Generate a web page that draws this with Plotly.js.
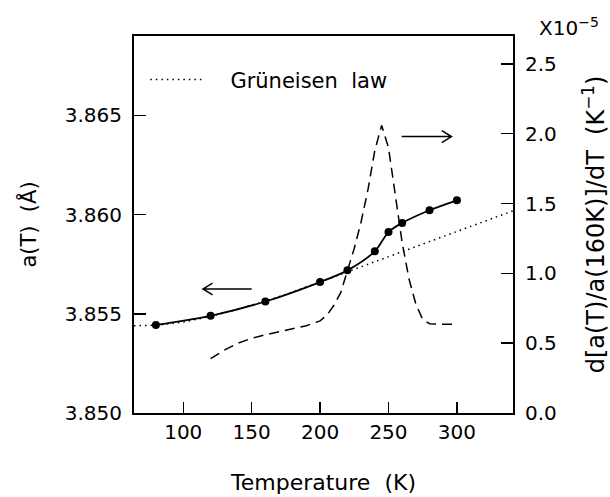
<!DOCTYPE html>
<html>
<head>
<meta charset="utf-8">
<script src="https://cdn.plot.ly/plotly-3.0.1.min.js"></script>
<style>html,body{margin:0;padding:0;background:#fff;}#chart{width:610px;height:497px;}</style>
</head>
<body>
<div id="chart"></div>
<script>
// Measured lattice parameter a(T) (Å)
const tempMeasured = [80, 120, 160, 200, 220, 240, 250, 260, 280, 300];
const latticeMeasured = [3.85444, 3.85490, 3.85562, 3.85660, 3.85719, 3.85815, 3.85912, 3.85958, 3.86022, 3.86072];

// Grüneisen law fit (Å)
const tempGruneisen = [64, 80, 100, 120, 140, 160, 180, 200, 220, 240, 260, 280, 300, 320, 341];
const latticeGruneisen = [3.85440, 3.85442, 3.85458, 3.85487, 3.85523, 3.85563, 3.85610, 3.85660, 3.85711, 3.85762, 3.85813, 3.85864, 3.85915, 3.85966, 3.86019];

// Thermal expansion d[a(T)/a(160K)]/dT  (x10^-5 K^-1)
const tempDeriv = [120, 130, 140, 150, 160, 170, 180, 190, 200, 205, 210, 215, 220, 225, 230, 235, 240, 245, 250, 255, 260, 265, 270, 275, 280, 290, 300];
const expansionDeriv = [0.39, 0.45, 0.50, 0.535, 0.56, 0.58, 0.60, 0.625, 0.66, 0.70, 0.77, 0.86, 1.02, 1.18, 1.37, 1.60, 1.88, 2.06, 1.90, 1.55, 1.22, 0.96, 0.78, 0.67, 0.64, 0.635, 0.635];

// Axis ticks
const xTicks = [100, 150, 200, 250, 300];
const yLeftTicks = [3.850, 3.855, 3.860, 3.865];
const yRightTicks = [0.0, 0.5, 1.0, 1.5, 2.0, 2.5];

const FONT = 'DejaVu Sans, Liberation Sans, sans-serif';

const traces = [
  {
    x: tempGruneisen, y: latticeGruneisen, xaxis: 'x', yaxis: 'y',
    mode: 'lines', name: '\u00a0\u00a0\u00a0Grüneisen  law',
    line: {color: '#000', width: 1.5, dash: '1.5px,4px'},
    showlegend: true
  },
  {
    x: tempMeasured, y: latticeMeasured, xaxis: 'x', yaxis: 'y',
    mode: 'lines+markers', name: 'a(T)',
    line: {color: '#000', width: 1.8, shape: 'spline', smoothing: 0.8},
    marker: {color: '#000', size: 8},
    showlegend: false
  },
  {
    x: tempDeriv, y: expansionDeriv, xaxis: 'x', yaxis: 'y2',
    mode: 'lines', name: 'derivative',
    line: {color: '#000', width: 1.5, dash: '10px,6px'},
    showlegend: false
  }
];

// arrows (in data coordinates)
const leftArrow = {x0: 150, x1: 114.4, y: 3.85625, ref: 'y', hx: 7, hy: 0.00030};
const rightArrow = {x0: 259.6, x1: 296, y: 1.98, ref: 'y2', hx: 7, hy: 0.043};
function arrowShapes(a) {
  const dir = a.x1 > a.x0 ? -1 : 1;
  const path = 'M' + a.x0 + ',' + a.y + ' L' + a.x1 + ',' + a.y +
    ' M' + (a.x1 + dir * a.hx) + ',' + (a.y + a.hy) + ' L' + a.x1 + ',' + a.y +
    ' L' + (a.x1 + dir * a.hx) + ',' + (a.y - a.hy);
  return {type: 'path', xref: 'x', yref: a.ref, path: path, line: {color: '#000', width: 1.5}};
}

const layout = {
  width: 610, height: 497,
  margin: {l: 134, r: 97, t: 36, b: 84},
  paper_bgcolor: '#fff', plot_bgcolor: '#fff',
  font: {family: FONT, size: 20, color: '#000'},
  xaxis: {
    range: [64, 341], tickvals: xTicks, ticktext: xTicks.map(String),
    ticks: 'inside', ticklen: 11, tickwidth: 1.5, tickcolor: '#000',
    showline: true, linewidth: 2, linecolor: '#000', mirror: true,
    showgrid: false, zeroline: false,
    tickfont: {family: FONT, size: 20},
    ticklabelstandoff: 0,
    title: {text: 'Temperature  (K)', font: {family: FONT, size: 22}, standoff: 32}
  },
  yaxis: {
    range: [3.850, 3.869], tickvals: yLeftTicks, ticktext: yLeftTicks.map(v => v.toFixed(3)),
    ticks: 'inside', ticklen: 12, tickwidth: 1.5, tickcolor: '#000',
    showline: true, linewidth: 2, linecolor: '#000',
    showgrid: false, zeroline: false,
    tickfont: {family: FONT, size: 20},
    ticklabelstandoff: 6,
    title: {text: 'a(T)  (Å)', font: {family: FONT, size: 21}, standoff: 22}
  },
  yaxis2: {
    overlaying: 'y', side: 'right',
    range: [0, 2.7], tickvals: yRightTicks, ticktext: yRightTicks.map(v => v.toFixed(1)),
    ticks: 'inside', ticklen: 12, tickwidth: 1.5, tickcolor: '#000',
    showline: true, linewidth: 2, linecolor: '#000',
    showgrid: false, zeroline: false,
    tickfont: {family: FONT, size: 20},
    ticklabelstandoff: 6,
    title: {text: 'd[a(T)/a(160K)]/dT  (K<sup>−1</sup>)', font: {family: FONT, size: 24}, standoff: 53}
  },
  showlegend: true,
  legend: {
    x: 0.03, y: 0.938, xanchor: 'left', yanchor: 'top',
    bgcolor: 'rgba(0,0,0,0)', borderwidth: 0,
    font: {family: FONT, size: 21}, itemwidth: 55
  },
  annotations: [
    {xref: 'paper', yref: 'paper', x: 1.0, y: 1.0, xanchor: 'left', yanchor: 'bottom',
     xshift: 24, yshift: -6, text: 'X10<sup>−5</sup>', showarrow: false,
     font: {family: FONT, size: 20}}
  ],
  shapes: [arrowShapes(leftArrow), arrowShapes(rightArrow)]
};

Plotly.newPlot('chart', traces, layout, {displayModeBar: false, staticPlot: true});
</script>
</body>
</html>
